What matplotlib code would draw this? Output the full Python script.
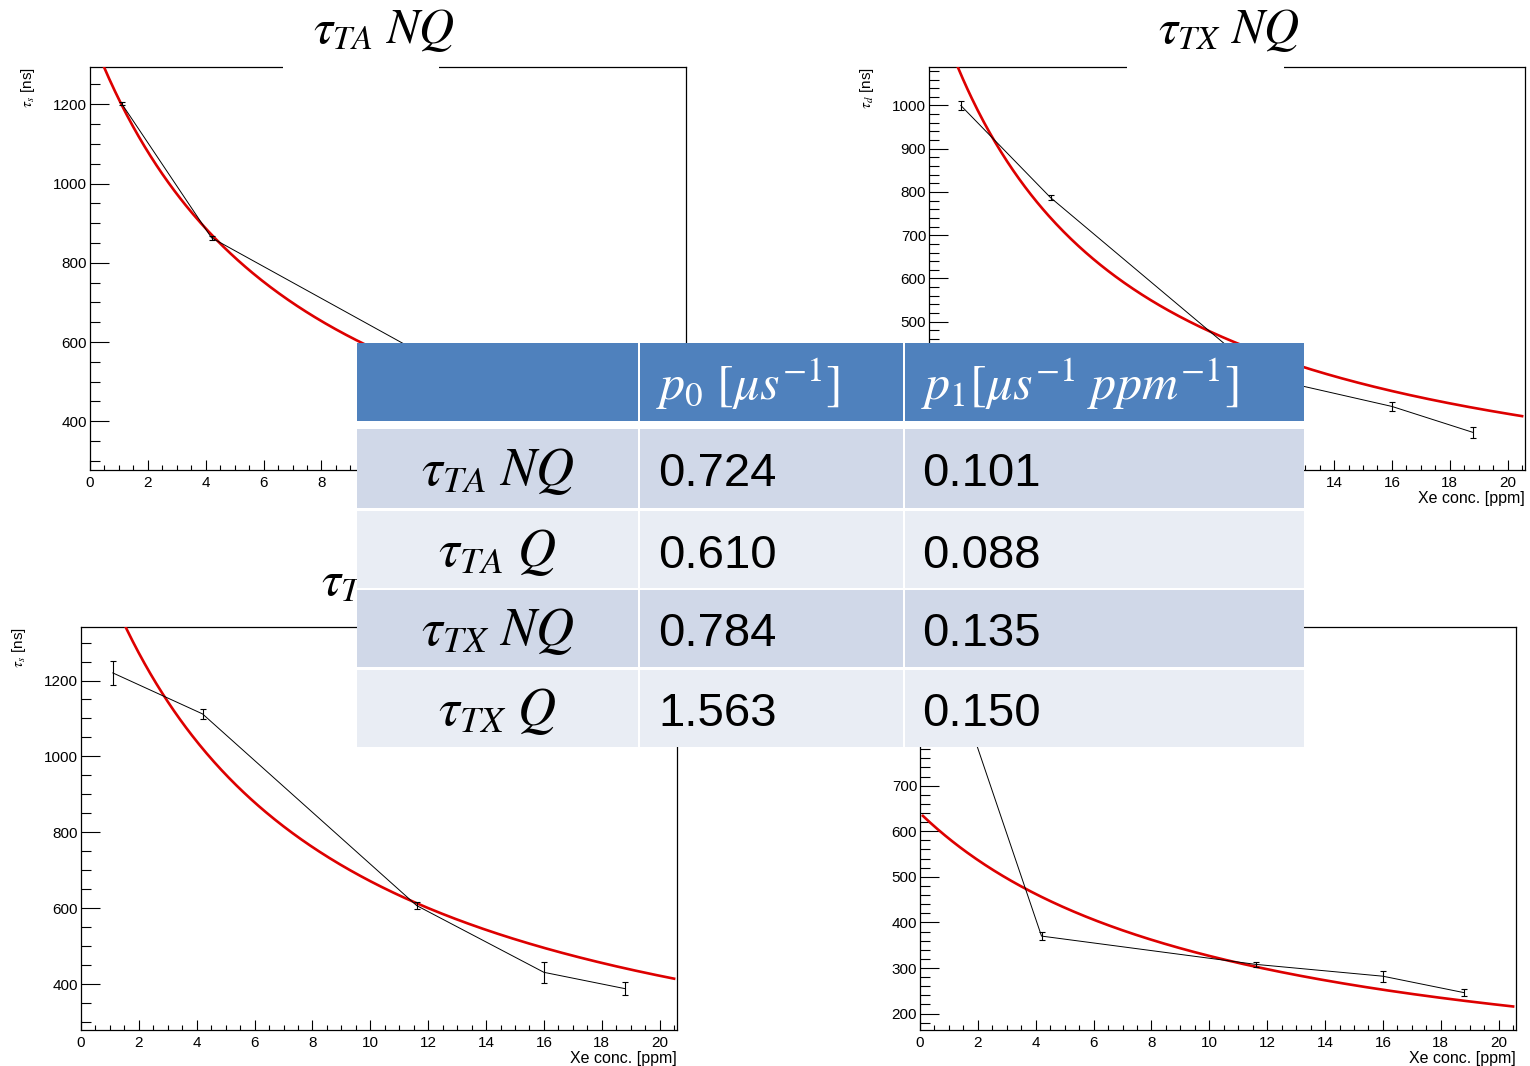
import numpy as np
import matplotlib.pyplot as plt
from matplotlib.patches import Rectangle
from matplotlib.ticker import MultipleLocator

plt.rcParams['mathtext.fontset'] = 'stix'
plt.rcParams['font.family'] = ['Liberation Sans', 'DejaVu Sans']

# Xe concentration [ppm] of the measured points
conc = [1.1, 4.2, 11.6, 16.0, 18.8]

# measured lifetimes [ns] and errors, one list per panel
tau_ta_nq = [1201, 863, 565, 445, 402]
err_ta_nq = [4, 5, 5, 6, 6]
tau_tx_nq = [1000, 787, 371, 304, 244]
err_tx_nq = [11, 5, 5, 10, 12]
tau_ta_q = [1220, 1112, 607, 431, 388]
err_ta_q = [32, 14, 8, 28, 17]
tau_tx_q = [950, 370, 308, 282, 246]
err_tx_q = [15, 9, 6, 12, 7]

# fit 1/tau = p0 + p1*c  (table values)
row_labels = [r'$\tau_{TA}\ NQ$', r'$\tau_{TA}\ Q$', r'$\tau_{TX}\ NQ$', r'$\tau_{TX}\ Q$']
p0 = [0.724, 0.610, 0.784, 1.563]
p1 = [0.101, 0.088, 0.135, 0.150]
col_labels = ['', r'$p_0\ [\mu s^{-1}]$', r'$p_1[\mu s^{-1}\ ppm^{-1}]$']
fit_range = (0.1, 20.5)

W, H = 1530, 1066
fig = plt.figure(figsize=(W / 100, H / 100), dpi=100)

def px_rect(left, top, right, bottom):
    return [left / W, 1 - bottom / H, (right - left) / W, (bottom - top) / H]

# (fit index, values, errors, y label, ylim, major, minor, frame in px)
panels = [
    (0, tau_ta_nq, err_ta_nq, r'$\tau_{s}$ [ns]', (277, 1294), 200, 50, (90, 67, 686, 470)),
    (2, tau_tx_nq, err_tx_nq, r'$\tau_{d}$ [ns]', (157, 1089), 100, 20, (929, 67, 1525, 470)),
    (1, tau_ta_q, err_ta_q, r'$\tau_{s}$ [ns]', (279, 1341), 200, 50, (81, 627, 677, 1030)),
    (3, tau_tx_q, err_tx_q, r'$\tau_{s}$ [ns]', (164, 1048), 100, 20, (920, 627, 1516, 1030)),
]

red = '#dd0000'
for k, vals, errs, ylab, ylim, major, minor, frame in panels:
    ax = fig.add_axes(px_rect(*frame))
    xs = np.linspace(fit_range[0], fit_range[1], 400)
    ax.plot(xs, 1000.0 / (p0[k] + p1[k] * xs), color=red, lw=1.9, zorder=3)
    ax.errorbar(conc, vals, yerr=errs, color='black', lw=0.7, elinewidth=0.8,
                capsize=2.5, capthick=0.8, zorder=4)
    ax.set_xlim(0, 20.6)
    ax.set_ylim(*ylim)
    ax.xaxis.set_major_locator(MultipleLocator(2))
    ax.xaxis.set_minor_locator(MultipleLocator(0.5))
    ax.yaxis.set_major_locator(MultipleLocator(major))
    ax.yaxis.set_minor_locator(MultipleLocator(minor))
    ax.tick_params(axis='y', which='major', direction='in', length=13.5, width=0.8,
                   labelsize=11, pad=2)
    ax.tick_params(axis='y', which='minor', direction='in', length=7.5, width=0.8)
    ax.tick_params(axis='x', which='major', direction='in', length=7.5, width=0.8,
                   labelsize=11, pad=4)
    ax.tick_params(axis='x', which='minor', direction='in', length=3.6, width=0.8)
    for sp in ax.spines.values():
        sp.set_linewidth(0.9)
    w = frame[2] - frame[0]
    h = frame[3] - frame[1]
    ax.text(-62 / w, 1.0, ylab, rotation=90, ha='center', va='top',
            fontsize=11, transform=ax.transAxes)
    ax.text(1.0, -28 / h, 'Xe conc. [ppm]', ha='right', va='center',
            fontsize=11.5, transform=ax.transAxes)

# overlay for titles and the table
ov = fig.add_axes([0, 0, 1, 1], zorder=10)
ov.set_xlim(0, W)
ov.set_ylim(H, 0)
ov.axis('off')
ov.patch.set_alpha(0)

# title boxes (white pads hiding the frame line) and titles
for x0, x1 in [(283, 439), (1127, 1284)]:
    ov.add_patch(Rectangle((x0, 0), x1 - x0, 70, facecolor='white', lw=0, zorder=1))
titles = [(384, 43, row_labels[0]), (1229, 43, row_labels[2]), (376, 595, row_labels[1])]
for tx, ty, t in titles:
    ov.text(tx, ty, t, ha='center', va='baseline', fontsize=35, zorder=2)

# table
col_edges = [(357, 638), (640, 903), (905, 1304)]
row_edges = [(343, 421), (429, 508), (511, 588), (590, 667), (670, 747)]
header_c = '#4f81bd'
body_c = ['#d0d8e8', '#e9edf4']

ov.add_patch(Rectangle((col_edges[0][0], row_edges[0][0]),
                       col_edges[-1][1] - col_edges[0][0],
                       row_edges[-1][1] - row_edges[0][0],
                       facecolor='white', lw=0, zorder=4))
for r, (rt, rb) in enumerate(row_edges):
    for c, (cl, cr) in enumerate(col_edges):
        fc = header_c if r == 0 else body_c[(r - 1) % 2]
        ov.add_patch(Rectangle((cl, rt), cr - cl, rb - rt, facecolor=fc, lw=0, zorder=5))

ym = (row_edges[0][0] + row_edges[0][1]) / 2
for c in (1, 2):
    ov.text(col_edges[c][0] + 16, ym + 2, col_labels[c], ha='left', va='center',
            color='white', fontsize=36, zorder=6)

for i in range(4):
    rt, rb = row_edges[i + 1]
    ym = (rt + rb) / 2
    ov.text((col_edges[0][0] + col_edges[0][1]) / 2, ym + 3, row_labels[i],
            ha='center', va='center', fontsize=38, zorder=6)
    ov.text(col_edges[1][0] + 18, ym + 6, f'{p0[i]:.3f}', ha='left', va='center',
            fontsize=34, zorder=6)
    ov.text(col_edges[2][0] + 17, ym + 6, f'{p1[i]:.3f}', ha='left', va='center',
            fontsize=34, zorder=6)

fig.savefig('out.png', dpi=100)
